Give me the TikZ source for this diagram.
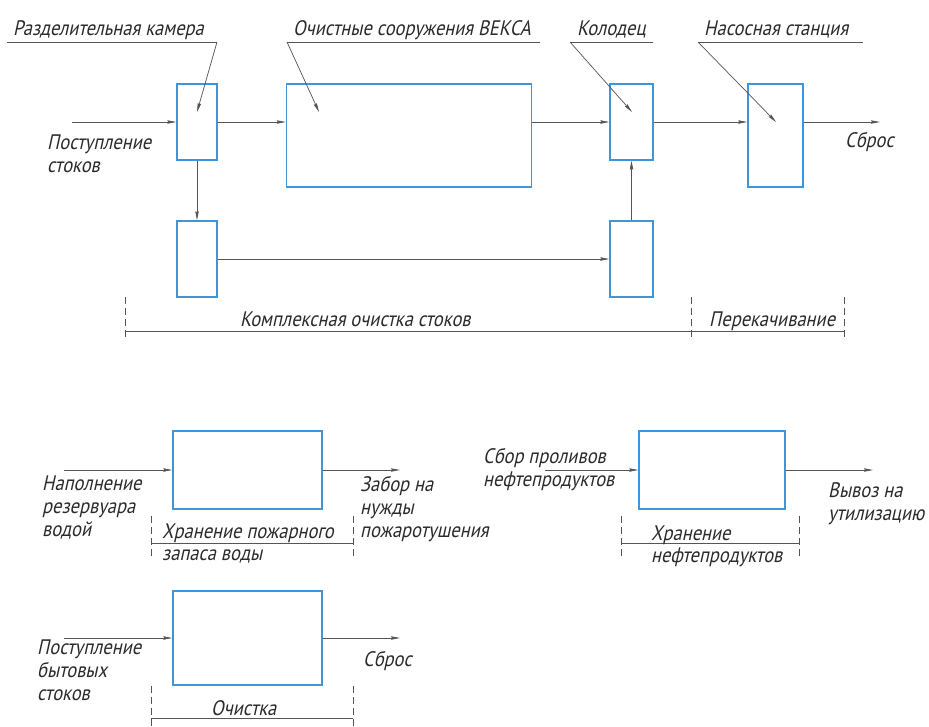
\documentclass[tikz,border=0pt]{standalone}
\usepackage{fontspec}
\setmainfont{PT Sans}
\newfontfamily\gost{PT Sans}[FakeSlant=0.22,FakeStretch=0.88]
\usetikzlibrary{arrows.meta}
\definecolor{boxblue}{HTML}{3F95DA}
\definecolor{ink}{HTML}{2B2B2B}
\definecolor{wire}{HTML}{555555}

\begin{document}
\begin{tikzpicture}[
  x=1pt, y=-1pt,
  unit/.style={draw=boxblue, line width=1.4pt, fill=white, inner sep=0pt},
  lbl/.style={font=\gost\fontsize{21}{23}\selectfont, text=ink, inner sep=0pt,
    anchor=base west, align=left},
  flow/.style={draw=wire, line width=0.7pt, -{Stealth[length=9pt,width=3.4pt,inset=1pt]}},
  shelf/.style={draw=wire, line width=0.7pt},
  ext/.style={draw=wire, line width=0.7pt, dash pattern=on 7pt off 4pt}
]
\useasboundingbox (0,0) rectangle (929,726);

% treatment line
\node[unit, minimum width=40, minimum height=76] (sep) at (197,122) {};
\node[unit, minimum width=245, minimum height=103] (veksa) at (409,135.5) {};
\node[unit, minimum width=43, minimum height=76] (well) at (631.5,122) {};
\node[unit, minimum width=55, minimum height=103] (pump) at (775.5,135.5) {};
\node[unit, minimum width=40, minimum height=76] (sepb) at (197,259) {};
\node[unit, minimum width=43, minimum height=76] (wellb) at (631.5,259) {};

\coordinate (inflow) at (72,122);
\coordinate (outflow) at (880,122);
\draw[flow] (inflow) -- (sep.west);
\draw[flow] (sep.east) -- (sep.east -| veksa.west);
\draw[flow] (veksa.east |- well.west) -- (well.west);
\draw[flow] (well.east) -- (well.east -| pump.west);
\draw[flow] (pump.east |- outflow) -- (outflow);
\draw[flow] (sep.south) -- (sepb.north);
\draw[flow] (sepb.east) -- (wellb.west);
\draw[flow] (wellb.north) -- (well.south);

\node[lbl] (inlbl) at (47,172) {Поступление\\стоков};
\node[lbl] (outlbl) at (845,147) {Сброс};

% leaders
\node[lbl] (seplbl) at (13,35) {Разделительная камера};
\coordinate (sepshelfa) at (7,42);
\coordinate (sepshelfb) at (217,42);
\coordinate (septip) at (197,112);
\draw[shelf] (sepshelfa) -- (sepshelfb);
\draw[flow] (sepshelfb) -- (septip);

\node[lbl] (veksalbl) at (293,35) {Очистные сооружения ВЕКСА};
\coordinate (veksashelfa) at (287,42);
\coordinate (veksashelfb) at (540,42);
\coordinate (veksatip) at (319,112);
\draw[shelf] (veksashelfa) -- (veksashelfb);
\draw[flow] (veksashelfa) -- (veksatip);

\node[lbl] (welllbl) at (577,35) {Колодец};
\coordinate (wellshelfa) at (570,42);
\coordinate (wellshelfb) at (653,42);
\coordinate (welltip) at (632,112);
\draw[shelf] (wellshelfa) -- (wellshelfb);
\draw[flow] (wellshelfa) -- (welltip);

\node[lbl] (pumplbl) at (704,35) {Насосная станция};
\coordinate (pumpshelfa) at (698,42);
\coordinate (pumpshelfb) at (863,42);
\coordinate (pumptip) at (776,122);
\draw[shelf] (pumpshelfa) -- (pumpshelfb);
\draw[flow] (pumpshelfa) -- (pumptip);

% stages
\draw[ext] (125,297) -- (125,340);
\draw[ext] (691,297) -- (691,340);
\draw[ext] (844,297) -- (844,340);
\draw[shelf] (125,331) -- (844,331);
\node[lbl] (cleanlbl) at (240,326) {Комплексная очистка стоков};
\node[lbl] (pumpinglbl) at (709,326) {Перекачивание};

% fire water
\node[unit, minimum width=149, minimum height=78] (fire) at (247.5,470) {};
\coordinate (firein) at (64,470);
\coordinate (fireout) at (400,470);
\draw[flow] (firein) -- (fire.west);
\draw[flow] (fire.east) -- (fireout);
\node[lbl] (fireinlbl) at (42,536) {Наполнение\\резервуара\\водой};
\node[lbl] (fireoutlbl) at (360,537) {Забор на\\нужды\\пожаротушения};
\draw[ext] (151,516) -- (151,556);
\draw[ext] (353,516) -- (353,556);
\draw[shelf] (151,543) -- (353,543);
\node[lbl] (firelbl) at (162,538) {Хранение пожарного};
\node[lbl] (firelblb) at (162,560) {запаса воды};

% oil products
\node[unit, minimum width=146, minimum height=78] (oil) at (712,470) {};
\coordinate (oilin) at (545,470);
\coordinate (oilout) at (873,470);
\draw[flow] (oilin) -- (oil.west);
\draw[flow] (oil.east) -- (oilout);
\node[lbl] (oilinlbl) at (483,486) {Сбор проливов\\нефтепродуктов};
\node[lbl] (oiloutlbl) at (828,520) {Вывоз на\\утилизацию};
\draw[ext] (621,516) -- (621,556);
\draw[ext] (799,516) -- (799,556);
\draw[shelf] (621,543) -- (799,543);
\node[lbl] (oillbl) at (651,540) {Хранение};
\node[lbl] (oillblb) at (651,562) {нефтепродуктов};

% household sewage
\node[unit, minimum width=149, minimum height=94] (home) at (247.5,638) {};
\coordinate (homein) at (64,638);
\coordinate (homeout) at (400,638);
\draw[flow] (homein) -- (home.west);
\draw[flow] (home.east) -- (homeout);
\node[lbl] (homeinlbl) at (37,700) {Поступление\\бытовых\\стоков};
\node[lbl] (homeoutlbl) at (363,666) {Сброс};
\draw[ext] (151,686) -- (151,726);
\draw[ext] (353,686) -- (353,726);
\draw[shelf] (151,718) -- (353,718);
\node[lbl] (homelbl) at (211,715) {Очистка};

\end{tikzpicture}
\end{document}
